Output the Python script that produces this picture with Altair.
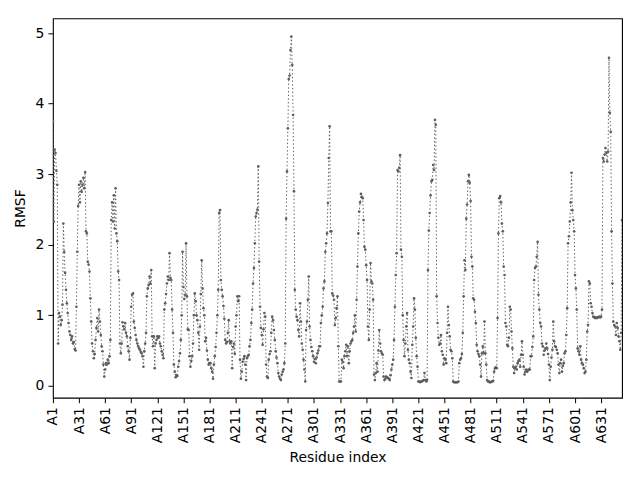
import altair as alt
import pandas as pd

# RMSF per residue (A1 ... A655)
rmsf = [
    3.75, 2.33, 3.35, 3.3, 3.05, 2.85, 0.6, 1.03, 0.98, 0.86,
    0.93, 1.15, 2.3, 1.9, 1.6, 1.36, 1.17, 1.03, 0.89, 0.77,
    0.72, 0.65, 0.7, 0.6, 0.62, 0.52, 0.5, 1.12, 1.9, 2.55,
    2.85, 2.6, 2.9, 2.75, 2.85, 2.95, 2.8, 3.03, 2.19, 2.16,
    1.76, 1.72, 1.62, 1.24, 0.91, 0.6, 0.49, 0.39, 0.45, 0.65,
    0.82, 0.96, 0.77, 1.08, 0.91, 0.72, 0.56, 0.49, 0.3, 0.13,
    0.23, 0.32, 0.3, 0.37, 0.32, 0.42, 0.65, 2.35, 2.6, 2.33,
    2.7, 2.23, 2.8, 2.16, 2.05, 1.62, 1.5, 0.6, 0.46, 0.6,
    0.9, 0.84, 0.8, 0.89, 0.75, 0.7, 0.56, 0.49, 0.37, 0.68,
    1.12, 1.29, 1.31, 0.91, 0.82, 0.72, 0.65, 0.6, 0.56, 0.53,
    0.51, 0.48, 0.46, 0.42, 0.27, 0.49, 0.6, 0.75, 1.27, 1.38,
    1.43, 1.55, 1.45, 1.64, 0.7, 0.56, 0.7, 0.25, 0.6, 0.65,
    0.7, 0.68, 0.7, 0.6, 0.56, 0.49, 0.44, 0.39, 1.08, 1.17,
    1.3, 1.45, 1.55, 1.5, 1.88, 1.53, 1.5, 1.08, 0.75, 0.3,
    0.2, 0.12, 0.15, 0.14, 0.27, 0.35, 0.46, 0.65, 1.0, 1.9,
    1.4, 1.23, 1.29, 2.02, 1.27, 0.8, 0.79, 0.42, 0.27, 0.35,
    0.42, 0.6, 1.0, 1.31, 1.2, 1.0, 0.93, 0.75, 0.51, 0.84,
    1.3, 1.78, 1.38, 1.1, 1.0, 0.63, 0.68, 0.5, 0.37, 0.3,
    0.32, 0.32, 0.25, 0.2, 0.1, 0.3, 0.42, 0.55, 0.75, 1.0,
    1.36, 2.45, 2.49, 1.5, 1.36, 1.27, 1.13, 0.95, 0.65, 0.6,
    0.62, 0.75, 0.93, 0.63, 0.6, 0.63, 0.25, 0.55, 0.6, 0.45,
    0.84, 1.0, 1.27, 1.2, 1.27, 0.37, 0.1, 0.2, 0.34, 0.38,
    0.42, 0.3, 0.08, 0.39, 0.42, 0.44, 0.56, 0.65, 0.89, 1.08,
    1.45, 1.67, 2.02, 2.4, 2.45, 2.5, 3.11, 1.76, 1.12, 0.82,
    0.72, 0.58, 0.8, 1.03, 0.98, 0.3, 0.13, 0.11, 0.37, 0.45,
    0.49, 0.75, 0.98, 0.93, 0.79, 0.65, 0.49, 0.4, 0.32, 0.18,
    0.13, 0.1, 0.08, 0.16, 0.2, 0.23, 0.32, 0.6, 2.37, 3.04,
    3.65, 4.35, 4.4, 4.76, 4.95, 4.55, 3.84, 2.76, 1.36, 1.08,
    0.98, 0.93, 0.79, 0.7, 1.17, 0.91, 0.6, 0.51, 0.37, 0.23,
    0.06, 0.79, 0.91, 1.22, 1.55, 0.84, 0.65, 0.55, 0.49, 0.42,
    0.34, 0.38, 0.32, 0.4, 0.46, 0.5, 0.56, 0.56, 0.89, 1.0,
    1.12, 1.38, 1.48, 1.9, 2.02, 2.16, 2.59, 3.23, 3.68, 2.19,
    2.19, 1.31, 1.28, 1.22, 0.86, 0.96, 1.1, 1.27, 0.56, 0.06,
    0.06, 0.06, 0.37, 0.34, 0.25, 0.42, 0.49, 0.58, 0.42, 0.56,
    0.32, 0.49, 0.6, 0.63, 0.65, 0.75, 0.84, 1.0, 0.77, 1.22,
    1.69, 2.16, 2.47, 2.6, 2.72, 2.68, 2.66, 2.35, 1.97, 1.93,
    1.71, 1.5, 0.84, 0.65, 1.08, 1.74, 1.48, 1.45, 1.22, 0.16,
    0.08, 0.18, 0.32, 0.2, 0.5, 0.79, 0.6, 0.49, 0.46, 0.44,
    0.13, 0.08, 0.1, 0.13, 0.12, 0.11, 0.1, 0.08, 0.15, 0.23,
    0.3, 0.37, 0.65, 1.12, 1.57, 1.88, 3.06, 3.04, 3.09, 3.27,
    1.93, 1.83, 1.0, 0.65, 0.42, 0.6, 0.84, 1.03, 0.51, 0.37,
    0.32, 0.2, 0.11, 0.58, 0.84, 1.24, 1.08, 0.68, 0.42, 0.27,
    0.06, 0.06, 0.05, 0.06, 0.06, 0.07, 0.08, 0.18, 0.08, 0.06,
    0.08, 1.64, 2.2, 2.45, 2.7, 2.9, 2.92, 3.13, 3.06, 3.77,
    3.7, 1.27, 0.89, 0.68, 0.58, 0.6, 0.72, 0.49, 0.44, 0.3,
    0.39, 0.37, 0.32, 0.75, 1.12, 0.86, 0.7, 0.51, 0.49, 0.39,
    0.06, 0.05, 0.05, 0.05, 0.05, 0.05, 0.06, 0.32, 0.37, 0.39,
    0.45, 0.75, 1.27, 1.78, 1.64, 2.37, 2.57, 2.9, 2.99, 2.88,
    2.62, 1.83, 1.69, 1.24, 1.22, 1.05, 0.89, 0.58, 0.49, 0.45,
    0.42, 0.3, 0.13, 0.46, 0.56, 0.46, 0.91, 0.46, 0.3, 0.08,
    0.06, 0.06, 0.05, 0.05, 0.06, 0.06, 0.07, 0.2, 0.25, 0.26,
    0.25, 0.96, 2.16, 2.66, 2.69, 2.6, 2.3, 2.19, 1.69, 1.57,
    0.89, 0.84, 0.58, 0.56, 0.68, 1.12, 1.08, 0.77, 0.53, 0.27,
    0.18, 0.25, 0.27, 0.23, 0.32, 0.35, 0.37, 0.27, 0.44, 0.63,
    0.44, 0.27, 0.16, 0.2, 0.23, 0.2, 0.22, 0.23, 0.23, 0.42,
    0.42, 0.55, 0.7, 1.5, 1.67, 1.69, 1.83, 2.04, 1.29, 1.08,
    0.89, 0.84, 0.6, 0.56, 0.44, 0.5, 0.53, 0.6, 0.53, 0.45,
    0.3, 0.08, 0.27, 0.4, 0.51, 0.91, 0.63, 0.56, 0.55, 0.51,
    0.46, 0.3, 0.18, 0.32, 0.37, 0.2, 0.28, 0.32, 0.46, 0.49,
    0.72, 1.1, 2.02, 2.12, 2.33, 2.6, 3.02, 2.49, 2.35, 2.19,
    1.57, 1.38, 1.08, 0.53, 0.49, 0.44, 0.56, 0.37, 0.32, 0.3,
    0.25, 0.18, 0.2, 0.37, 0.77, 0.86, 1.48, 1.45, 1.17, 1.12,
    1.03, 0.98, 0.97, 0.96, 0.97, 0.96, 0.97, 0.97, 0.98, 0.97,
    0.98, 1.08, 3.23, 3.18, 3.28, 3.37, 3.3, 3.18, 3.32, 4.65,
    3.87, 3.6, 2.19, 1.45, 0.91, 0.86, 0.84, 0.72, 0.89, 0.82,
    0.7, 0.63, 0.51, 0.75, 2.35,
]

residues = [f"A{k + 1}" for k in range(len(rmsf))]
tick_positions = list(range(0, 631, 30))
tick_labels = [residues[p] for p in tick_positions]

df = pd.DataFrame({"idx": list(range(len(rmsf))), "residue": residues, "rmsf": rmsf})

label_map = "{" + ",".join(f"'{p}':'{l}'" for p, l in zip(tick_positions, tick_labels)) + "}"

FONT = "DejaVu Sans"
GREY = "#5e5e5e"

x_enc = alt.X(
    "idx:Q",
    scale=alt.Scale(domain=[0, len(rmsf) - 1], nice=False, zero=False),
    axis=alt.Axis(
        values=tick_positions,
        labelExpr=f"{label_map}[''+datum.value]",
        labelAngle=270,
        labelAlign="right",
        labelBaseline="middle",
        title="Residue index",
        grid=False,
        domain=False,
        tickColor="black",
        tickSize=5,
        tickWidth=1,
        labelPadding=4,
        labelFont=FONT,
        labelFontSize=13.9,
        labelColor="black",
        titleFont=FONT,
        titleFontSize=13.9,
        titleFontWeight="normal",
        titleColor="black",
        titlePadding=8,
        labelOverlap=False,
        labelFlush=False,
        labelBound=False,
    ),
)
y_enc = alt.Y(
    "rmsf:Q",
    scale=alt.Scale(domain=[-0.17, 5.21], nice=False, zero=False),
    axis=alt.Axis(
        values=[0, 1, 2, 3, 4, 5],
        format="d",
        title="RMSF",
        grid=False,
        domain=False,
        tickColor="black",
        tickSize=5,
        tickWidth=1,
        labelPadding=4,
        labelFont=FONT,
        labelFontSize=13.9,
        labelColor="black",
        titleFont=FONT,
        titleFontSize=13.9,
        titleFontWeight="normal",
        titleColor="black",
        titlePadding=8,
    ),
)

base = alt.Chart(df).encode(x=x_enc, y=y_enc)

line = base.mark_line(color=GREY, strokeWidth=1, strokeDash=[1.4, 2.3], clip=True)
pts = base.mark_circle(color=GREY, size=7, opacity=1, clip=True).encode(
    tooltip=["residue", "rmsf"]
)

chart = (
    alt.layer(line, pts)
    .properties(
        width=570,
        height=380,
        autosize=alt.AutoSizeParams(type="none"),
        padding={"left": 45, "top": 10, "right": 10, "bottom": 72},
        background="white",
    )
    .configure_axis(labelOverlap=False)
    .configure_view(stroke="black", strokeWidth=1.1)
)

chart.save("out.html", embed_options={"renderer": "svg", "actions": False})
